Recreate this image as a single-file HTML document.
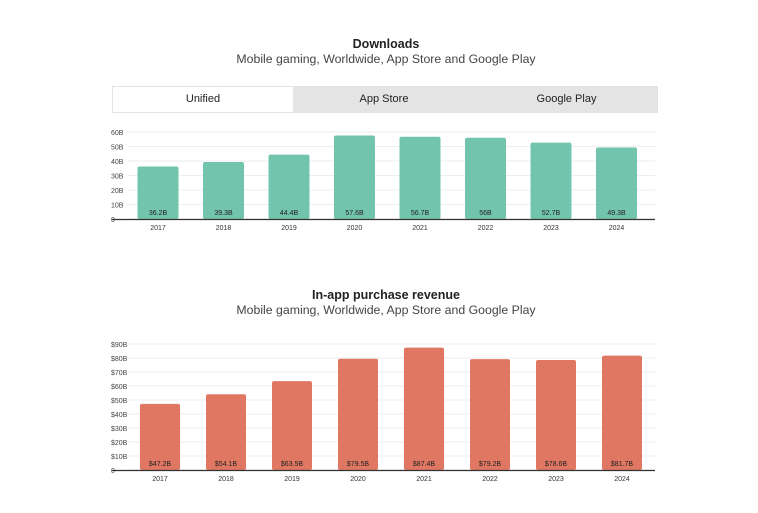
<!DOCTYPE html>
<html><head><meta charset="utf-8"><style>
body{margin:0;width:758px;height:513px;background:#fff;font-family:"Liberation Sans",sans-serif;overflow:hidden;position:relative}
.t{position:absolute;left:0;width:772px;text-align:center;color:#222}
.title{font-weight:bold;font-size:12.5px}
.sub{font-size:12.3px;color:#444}
.tab{position:absolute;top:87px;height:25px;line-height:25px;text-align:center;font-size:11px;color:#222}
</style></head><body>
<div class="t title" style="top:37px">Downloads</div>
<div class="t sub" style="top:52px">Mobile gaming, Worldwide, App Store and Google Play</div>
<div style="position:absolute;left:112px;top:86px;width:546px;height:27px;background:#e4e4e4"></div>
<div class="tab" style="left:113px;width:180px;background:#fff">Unified</div>
<div class="tab" style="left:293px;width:182px">App Store</div>
<div class="tab" style="left:475px;width:183px">Google Play</div>
<div class="t title" style="top:288px">In-app purchase revenue</div>
<div class="t sub" style="top:303px">Mobile gaming, Worldwide, App Store and Google Play</div>
<svg id="s" width="758" height="513" style="position:absolute;left:0;top:0"></svg>
<script>
const years=["2017","2018","2019","2020","2021","2022","2023","2024"];
const downloads=[36.2,39.3,44.4,57.6,56.7,56,52.7,49.3];
const downloadLabels=["36.2B","39.3B","44.4B","57.6B","56.7B","56B","52.7B","49.3B"];
const dlTicks=[0,10,20,30,40,50,60];
const dlTickLabels=["0","10B","20B","30B","40B","50B","60B"];
const revenue=[47.2,54.1,63.5,79.5,87.4,79.2,78.6,81.7];
const revenueLabels=["$47.2B","$54.1B","$63.5B","$79.5B","$87.4B","$79.2B","$78.6B","$81.7B"];
const revTicks=[0,10,20,30,40,50,60,70,80,90];
const revTickLabels=["0","$10B","$20B","$30B","$40B","$50B","$60B","$70B","$80B","$90B"];
const svg=document.getElementById('s');
function mk(t,a){const e=document.createElementNS('http://www.w3.org/2000/svg',t);for(const k in a)e.setAttribute(k,a[k]);svg.appendChild(e);return e;}
function chart(cfg){
  const y=v=>cfg.base-(v/cfg.max)*(cfg.base-cfg.top);
  const x=i=>cfg.c0+i*cfg.step;
  cfg.ticks.forEach((t,i)=>{
    const g=mk('line',{x1:128,x2:655,y1:y(t),y2:y(t),stroke:'#eee','stroke-width':1});
    
    
    const tx=mk('text',{x:111,y:y(t)+3,'font-size':7,fill:'#444'});tx.textContent=cfg.tl[i];
    
    
  });
  cfg.vals.forEach((v,i)=>{
    const r=mk('rect',{x:x(i)-cfg.w/2,y:y(v),width:cfg.w,height:cfg.base-y(v),rx:2,fill:cfg.color});
    
    
    const l=mk('text',{x:x(i),y:cfg.base-4,'font-size':7,fill:'#222','text-anchor':'middle'});l.textContent=cfg.labels[i];
    
    
    const c=mk('text',{x:x(i),y:cfg.base+11,'font-size':7,fill:'#333','text-anchor':'middle'});c.textContent=years[i];
    
    
  });
  const a=mk('line',{x1:112,x2:655,y1:cfg.base+0.5,y2:cfg.base+0.5,stroke:'#333','stroke-width':1.2});
  
  
}
chart({vals:downloads,labels:downloadLabels,ticks:dlTicks,tl:dlTickLabels,max:60,base:219,top:132,c0:158,step:65.5,w:41,color:'#72c5ac'});
chart({vals:revenue,labels:revenueLabels,ticks:revTicks,tl:revTickLabels,max:90,base:470,top:344,c0:160,step:66,w:40,color:'#e07762'});
</script>
</body></html>
